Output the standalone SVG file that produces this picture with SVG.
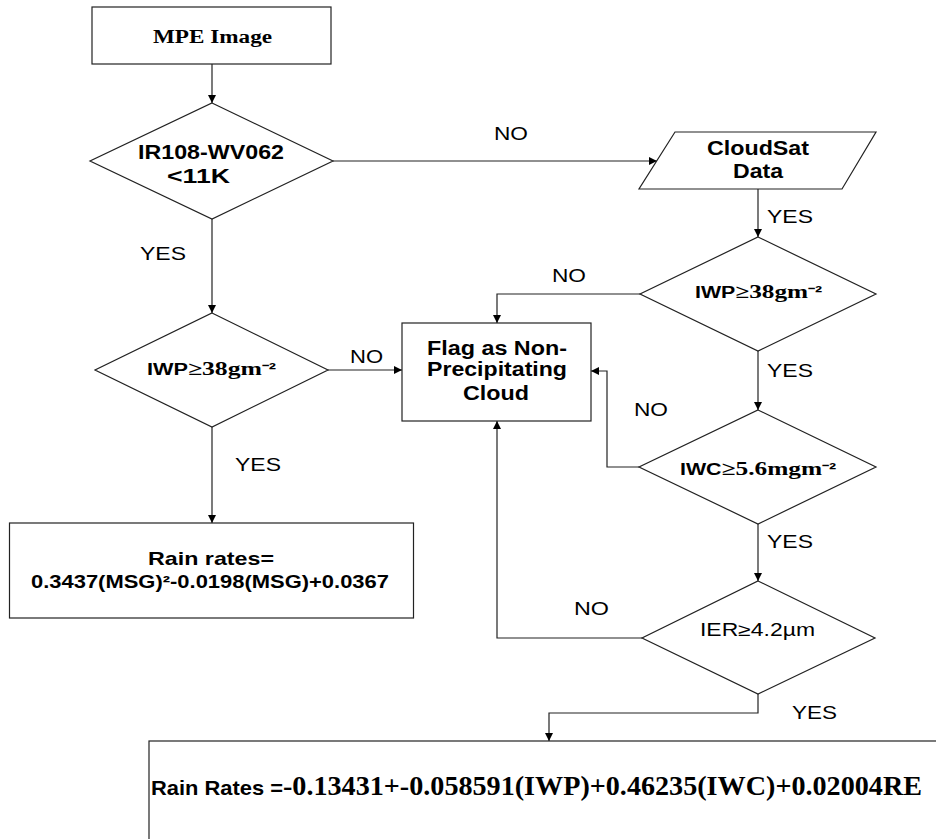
<svg xmlns="http://www.w3.org/2000/svg" width="936" height="839" viewBox="0 0 936 839">
<defs>
<marker id="arr" viewBox="0 0 10 10" refX="10" refY="5" markerWidth="8" markerHeight="8" markerUnits="userSpaceOnUse" orient="auto">
<path d="M0,0 L10,5 L0,10 Z" fill="#000"/>
</marker>
</defs>
<style>
.shape{fill:#fff;stroke:#222;stroke-width:1.2}
.conn{fill:none;stroke:#222;stroke-width:1.2}
.lbl{font-family:"Liberation Sans",Arial,sans-serif;font-size:18px;fill:#000}
.ab{font-family:"Liberation Sans",Arial,sans-serif;font-weight:bold;fill:#000}
.tb{font-family:"Liberation Serif","Times New Roman",serif;font-weight:bold;fill:#000}
</style>
<rect width="936" height="839" fill="#fff"/>

<g id="connectors">
<path class="conn" d="M212,64 V103" marker-end="url(#arr)"/>
<path class="conn" d="M333,161 H657" marker-end="url(#arr)"/>
<path class="conn" d="M758,189 V237" marker-end="url(#arr)"/>
<path class="conn" d="M640,294 H497 V323" marker-end="url(#arr)"/>
<path class="conn" d="M212,219 V313" marker-end="url(#arr)"/>
<path class="conn" d="M328,370 H402" marker-end="url(#arr)"/>
<path class="conn" d="M212,427 V523" marker-end="url(#arr)"/>
<path class="conn" d="M758,351 V410" marker-end="url(#arr)"/>
<path class="conn" d="M639,467 H607 V371 H591" marker-end="url(#arr)"/>
<path class="conn" d="M758,524 V581" marker-end="url(#arr)"/>
<path class="conn" d="M642,638 H497 V421" marker-end="url(#arr)"/>
<path class="conn" d="M758,694 V713 H549 V741" marker-end="url(#arr)"/>
<text class="lbl" x="494" y="140" textLength="34" lengthAdjust="spacingAndGlyphs">NO</text>
<text class="lbl" x="767" y="223" textLength="46" lengthAdjust="spacingAndGlyphs">YES</text>
<text class="lbl" x="552" y="282" textLength="34" lengthAdjust="spacingAndGlyphs">NO</text>
<text class="lbl" x="140" y="260" textLength="46" lengthAdjust="spacingAndGlyphs">YES</text>
<text class="lbl" x="350" y="363" textLength="33" lengthAdjust="spacingAndGlyphs">NO</text>
<text class="lbl" x="235" y="471" textLength="46" lengthAdjust="spacingAndGlyphs">YES</text>
<text class="lbl" x="767" y="377" textLength="46" lengthAdjust="spacingAndGlyphs">YES</text>
<text class="lbl" x="634" y="416" textLength="34" lengthAdjust="spacingAndGlyphs">NO</text>
<text class="lbl" x="767" y="548" textLength="46" lengthAdjust="spacingAndGlyphs">YES</text>
<text class="lbl" x="574" y="615" textLength="35" lengthAdjust="spacingAndGlyphs">NO</text>
<text class="lbl" x="792" y="719" textLength="45" lengthAdjust="spacingAndGlyphs">YES</text>
</g>

<g id="mpe-image">
<rect class="shape" x="92" y="7" width="239" height="57"/>
<text class="tb" x="153" y="43" font-size="18" textLength="119" lengthAdjust="spacingAndGlyphs">MPE Image</text>
</g>

<g id="ir-diff">
<polygon class="shape" points="212,103 333,161 212,219 90,161"/>
<text class="ab" x="138" y="159" font-size="21" textLength="146" lengthAdjust="spacingAndGlyphs">IR108-WV062</text>
<text class="ab" x="167" y="183" font-size="21" textLength="63" lengthAdjust="spacingAndGlyphs">&lt;11K</text>
</g>

<g id="cloudsat-data">
<polygon class="shape" points="675,132 876,132 842,189 639,189"/>
<text class="ab" x="707" y="155" font-size="20" textLength="102" lengthAdjust="spacingAndGlyphs">CloudSat</text>
<text class="ab" x="733" y="178" font-size="20" textLength="50" lengthAdjust="spacingAndGlyphs">Data</text>
</g>

<g id="iwp-right">
<polygon class="shape" points="758,237 876,294 758,351 640,294"/>
<text x="695" y="298" textLength="127" lengthAdjust="spacingAndGlyphs"><tspan class="ab" font-size="16">IWP</tspan><tspan class="tb" font-size="19">≥38gm</tspan><tspan class="ab" font-size="16">⁻²</tspan></text>
</g>

<g id="iwp-left">
<polygon class="shape" points="212,313 328,370 212,427 95,370"/>
<text x="147" y="375" textLength="129" lengthAdjust="spacingAndGlyphs"><tspan class="ab" font-size="16">IWP</tspan><tspan class="tb" font-size="19">≥38gm</tspan><tspan class="ab" font-size="16">⁻²</tspan></text>
</g>

<g id="flag-non-precip">
<rect class="shape" x="402" y="323" width="189" height="98"/>
<text class="ab" x="427" y="355" font-size="20" textLength="140" lengthAdjust="spacingAndGlyphs">Flag as Non-</text>
<text class="ab" x="427" y="376" font-size="20" textLength="140" lengthAdjust="spacingAndGlyphs">Precipitating</text>
<text class="ab" x="463" y="400" font-size="20" textLength="66" lengthAdjust="spacingAndGlyphs">Cloud</text>
</g>

<g id="iwc">
<polygon class="shape" points="758,410 876,467 758,524 639,467"/>
<text x="680" y="475" textLength="156" lengthAdjust="spacingAndGlyphs"><tspan class="ab" font-size="16">IWC</tspan><tspan class="tb" font-size="19">≥5.6mgm</tspan><tspan class="ab" font-size="16">⁻²</tspan></text>
</g>

<g id="ier">
<polygon class="shape" points="758,581 875,638 758,694 642,638"/>
<text class="lbl" x="700" y="636" textLength="115" lengthAdjust="spacingAndGlyphs">IER≥4.2µm</text>
</g>

<g id="rain-rates-msg">
<rect class="shape" x="9.5" y="523" width="404" height="95"/>
<text class="ab" x="148" y="565" font-size="19" textLength="126" lengthAdjust="spacingAndGlyphs">Rain rates=</text>
<text class="ab" x="31" y="588" font-size="18" textLength="358" lengthAdjust="spacingAndGlyphs">0.3437(MSG)²-0.0198(MSG)+0.0367</text>
</g>

<g id="rain-rates-cloudsat">
<rect class="shape" x="149" y="741" width="800" height="110"/>
<text x="151" y="795" textLength="771" lengthAdjust="spacingAndGlyphs"><tspan class="ab" font-size="21">Rain Rates =</tspan><tspan class="tb" font-size="27">-0.13431+-0.058591(IWP)+0.46235(IWC)+0.02004RE</tspan></text>
</g>
</svg>
